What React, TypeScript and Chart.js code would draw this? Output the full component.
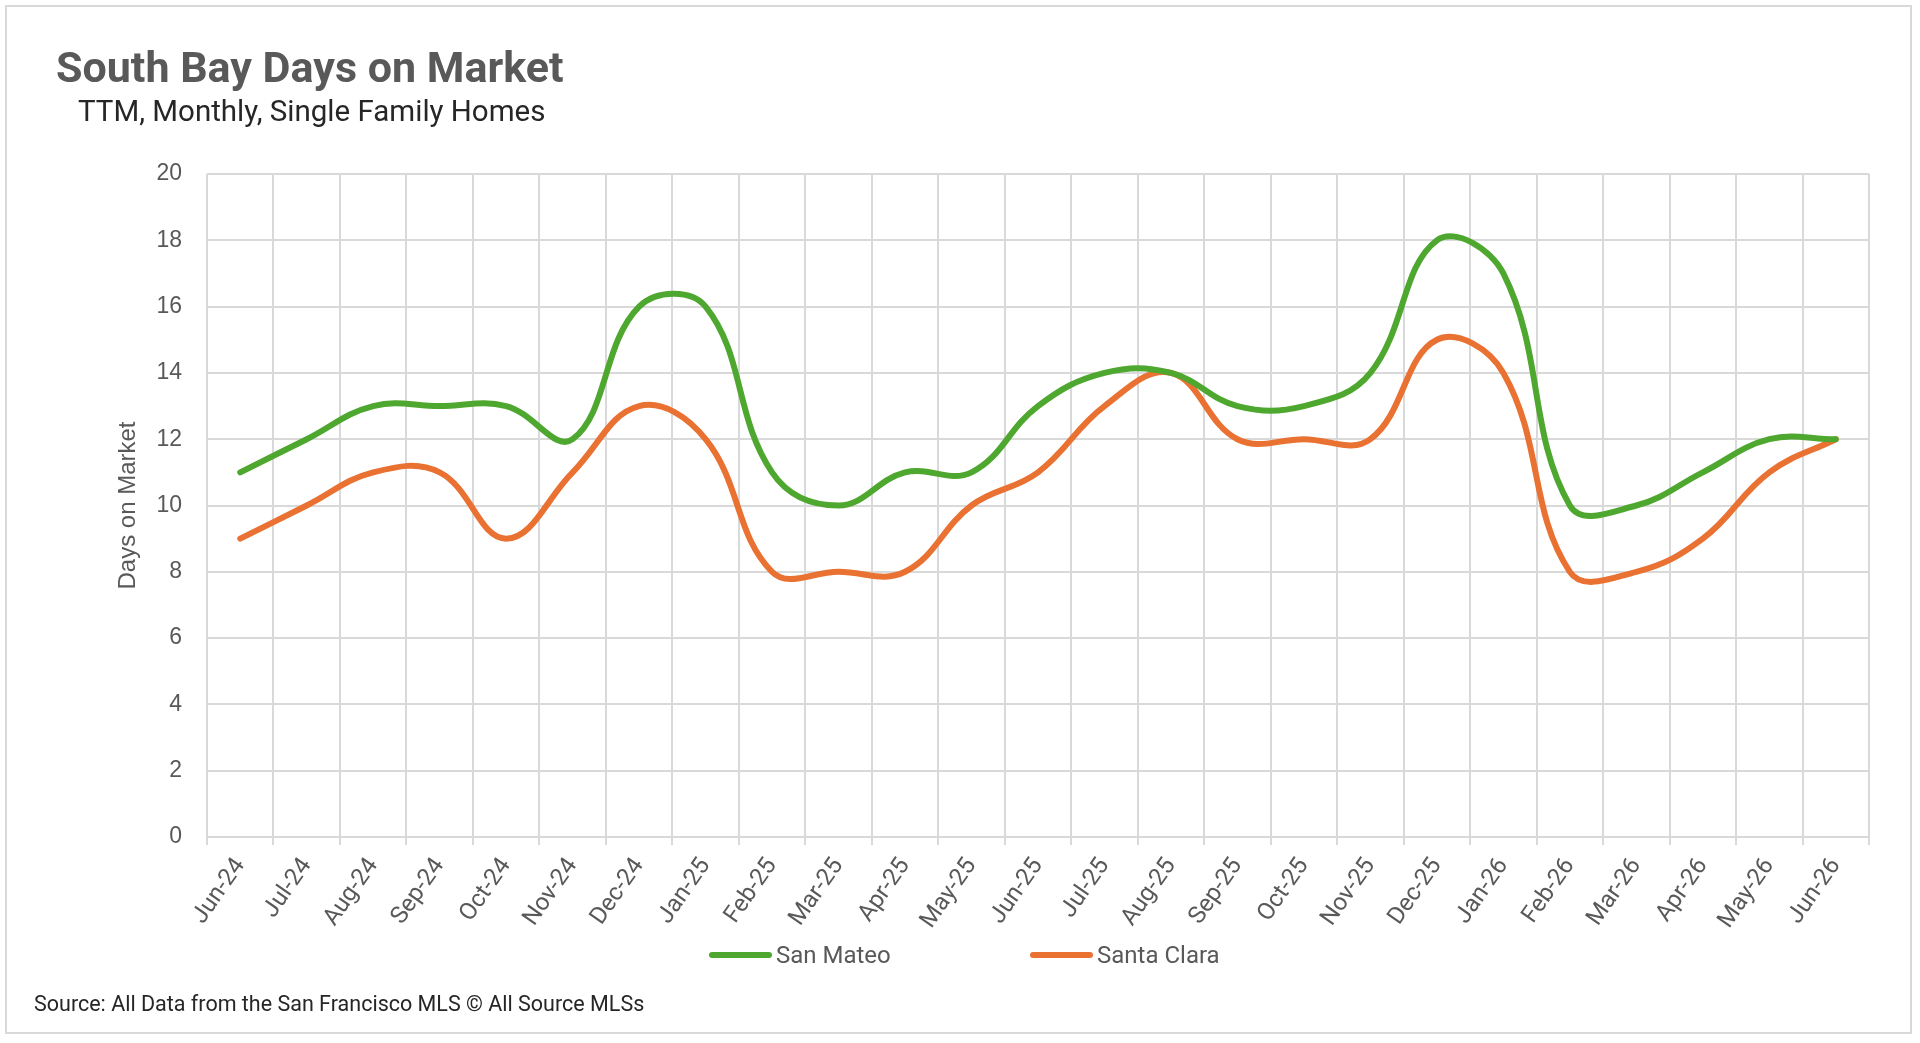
import { useEffect, useRef } from "react"
import { Chart, registerables } from "chart.js"

Chart.register(...registerables)

// Months on the category axis
const months = [
  "Jun-24", "Jul-24", "Aug-24", "Sep-24", "Oct-24", "Nov-24", "Dec-24",
  "Jan-25", "Feb-25", "Mar-25", "Apr-25", "May-25", "Jun-25", "Jul-25",
  "Aug-25", "Sep-25", "Oct-25", "Nov-25", "Dec-25", "Jan-26", "Feb-26",
  "Mar-26", "Apr-26", "May-26", "Jun-26",
]

// Days on market
const sanMateo = [11, 12, 13, 13, 13, 12, 16, 16, 11, 10, 11, 11, 13, 14, 14, 13, 13, 14, 18, 17, 10, 10, 11, 12, 12]
const santaClara = [9, 10, 11, 11, 9, 11, 13, 12, 8, 8, 8, 10, 11, 13, 14, 12, 12, 12, 15, 14, 8, 8, 9, 11, 12]

const seriesNames = ["San Mateo", "Santa Clara"]
const seriesColors = ["#4EA72E", "#E97132"]
const seriesValues = [sanMateo, santaClara]

const gridColor = "#d9d9d9"
const textGray = "#595959"

function DaysOnMarketChart() {
  const canvasRef = useRef<HTMLCanvasElement>(null)
  const chartRef = useRef<Chart | null>(null)

  useEffect(() => {
    if (!canvasRef.current) return
    if (chartRef.current) chartRef.current.destroy()
    const ctx = canvasRef.current.getContext("2d")
    if (!ctx) return

    chartRef.current = new Chart(ctx, {
      type: "line",
      data: {
        labels: months,
        datasets: seriesNames.map((name, i) => ({
          label: name,
          data: seriesValues[i],
          borderColor: seriesColors[i],
          backgroundColor: seriesColors[i],
          borderWidth: 6,
          borderCapStyle: "round",
          borderJoinStyle: "round",
          pointRadius: 0,
          pointHoverRadius: 0,
          tension: 0.4,
          fill: false,
        })),
      },
      options: {
        responsive: true,
        maintainAspectRatio: false,
        animation: false,
        layout: {
          padding: { left: 110, right: 51, top: 174, bottom: 0 },
        },
        plugins: {
          legend: { display: false },
          tooltip: { enabled: false },
        },
        scales: {
          x: {
            type: "category",
            offset: true,
            grid: {
              offset: true,
              color: gridColor,
              lineWidth: 2,
              tickLength: 8,
            },
            border: { color: gridColor, width: 2 },
            ticks: {
              autoSkip: false,
              minRotation: 55,
              maxRotation: 55,
              padding: 8,
              color: textGray,
              font: { family: "Roboto", size: 24 },
            },
            afterFit: (scale) => {
              scale.height = 206
            },
          },
          y: {
            min: 0,
            max: 20,
            ticks: {
              stepSize: 2,
              padding: 25,
              color: textGray,
              font: { family: "Liberation Sans", size: 23 },
            },
            grid: { color: gridColor, lineWidth: 2, drawTicks: false },
            border: { display: false },
            title: {
              display: true,
              text: "Days on Market",
              color: textGray,
              font: { family: "Liberation Sans", size: 24 },
              padding: { top: 4, bottom: 4 },
            },
            afterFit: (scale) => {
              scale.width = 97
            },
          },
        },
      },
    })

    return () => {
      if (chartRef.current) {
        chartRef.current.destroy()
        chartRef.current = null
      }
    }
  }, [])

  return (
    <div style={{ position: "absolute", left: 0, top: 0, width: 1920, height: 1043 }}>
      <canvas ref={canvasRef}></canvas>
    </div>
  )
}

export default function App() {
  const legendLefts = [709, 1030]

  return (
    <div
      style={{
        position: "fixed",
        left: 0,
        top: 0,
        width: 1920,
        height: 1043,
        background: "#fff",
        overflow: "hidden",
        fontFamily: "Roboto, sans-serif",
      }}
    >
      {/* chart frame */}
      <div
        style={{
          position: "absolute",
          left: 5,
          top: 5,
          width: 1903,
          height: 1025,
          border: `2px solid ${gridColor}`,
        }}
      />
      <DaysOnMarketChart />
      <div
        style={{
          position: "absolute",
          left: 56,
          top: 46,
          fontSize: 43,
          lineHeight: 1,
          fontWeight: 700,
          color: textGray,
          whiteSpace: "nowrap",
        }}
      >
        South Bay Days on Market
      </div>
      <div
        style={{
          position: "absolute",
          left: 78,
          top: 97,
          fontSize: 29.5,
          lineHeight: 1,
          color: "#262626",
          whiteSpace: "nowrap",
        }}
      >
        TTM, Monthly, Single Family Homes
      </div>
      {seriesNames.map((name, i) => (
        <div
          key={name}
          style={{
            position: "absolute",
            left: legendLefts[i],
            top: 955,
            transform: "translateY(-50%)",
            display: "flex",
            alignItems: "center",
            whiteSpace: "nowrap",
          }}
        >
          <span
            style={{
              display: "inline-block",
              width: 63,
              height: 6,
              borderRadius: 3,
              background: seriesColors[i],
            }}
          />
          <span style={{ marginLeft: 4, fontSize: 24, lineHeight: 1, color: textGray }}>{name}</span>
        </div>
      ))}
      <div
        style={{
          position: "absolute",
          left: 34,
          top: 993,
          fontSize: 21.5,
          lineHeight: 1,
          color: "#262626",
          whiteSpace: "nowrap",
        }}
      >
        Source: All Data from the San Francisco MLS © All Source MLSs
      </div>
    </div>
  )
}
